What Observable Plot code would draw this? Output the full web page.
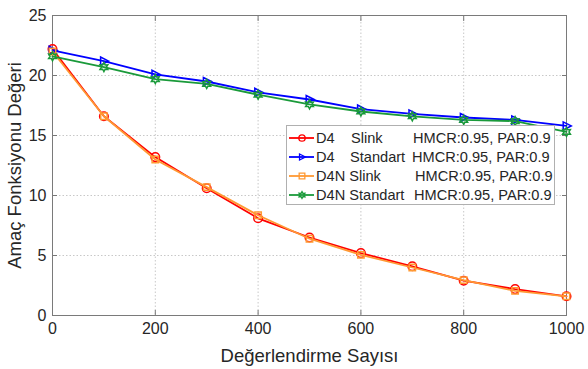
<!DOCTYPE html>
<html>
<head>
<meta charset="utf-8">
<script src="https://cdn.jsdelivr.net/npm/d3@7"></script>
<script src="https://cdn.jsdelivr.net/npm/@observablehq/plot@0.6"></script>
<style>
  body { margin: 0; background: #fff; }
  #wrap { position: relative; width: 588px; height: 369px; font-family: "Liberation Sans", Arial, sans-serif; }
  #wrap svg text { font-family: "Liberation Sans", Arial, sans-serif; }
  #legend { position: absolute; left: 286px; top: 125px; width: 269px; height: 80px; border: 1px solid #b0b0b0; background: #fff; box-sizing: border-box; }
  #legend .row { position: absolute; left: 0; height: 19px; width: 100%; font-size: 14.6px; color: #262626; }
  #legend .row span { position: absolute; top: 0; line-height: 19px; white-space: pre; }
  #legend svg { position: absolute; left: 0; top: 0; }
</style>
</head>
<body>
<div id="wrap"></div>
<script>
const evals = [0, 100, 200, 300, 400, 500, 600, 700, 800, 900, 1000];
const d4Slink     = [22.2, 16.6, 13.2, 10.6, 8.1, 6.5, 5.2, 4.1, 2.9, 2.2, 1.6];
const d4Standart  = [22.1, 21.2, 20.1, 19.5, 18.6, 18.0, 17.2, 16.8, 16.5, 16.3, 15.8];
const d4nSlink    = [22.0, 16.6, 13.0, 10.7, 8.35, 6.4, 5.05, 4.0, 2.95, 2.05, 1.6];
const d4nStandart = [21.6, 20.7, 19.7, 19.3, 18.4, 17.6, 17.0, 16.6, 16.3, 16.2, 15.3];
const seriesNames = ["D4 Slink", "D4 Standart", "D4N Slink", "D4N Standart"];
const seriesColors = ["#ff0000", "#0000ff", "#ff9933", "#1a9a3a"];
const xTicks = [0, 200, 400, 600, 800, 1000];
const yTicks = [0, 5, 10, 15, 20, 25];
const xLabel = "Değerlendirme Sayısı";
const yLabel = "Amaç Fonksiyonu Değeri";
const legendParam = "HMCR:0.95, PAR:0.9";

const triangleRight = {
  draw(ctx, size) {
    const r = Math.sqrt(size) * 0.62;
    ctx.moveTo(r, 0);
    ctx.lineTo(-r * 0.7, -r * 0.85);
    ctx.lineTo(-r * 0.7, r * 0.85);
    ctx.closePath();
  }
};
const hexagram = {
  draw(ctx, size) {
    const R = Math.sqrt(size) * 0.6, r = R * 0.55;
    for (let i = 0; i < 12; i++) {
      const a = -Math.PI / 2 + i * Math.PI / 6;
      const rr = i % 2 === 0 ? R : r;
      const x = rr * Math.cos(a), y = rr * Math.sin(a);
      if (i === 0) ctx.moveTo(x, y); else ctx.lineTo(x, y);
    }
    ctx.closePath();
  }
};
const symbols = ["circle", triangleRight, "square", hexagram];
const radii = [4.3, 4.3, 3.6, 4.2];

const allSeries = [d4Slink, d4Standart, d4nSlink, d4nStandart];
const data = [];
allSeries.forEach((vals, si) => vals.forEach((v, i) => data.push({x: evals[i], y: v, s: si})));

const marks = [
  Plot.gridX(xTicks, {stroke: "#c8c8c8", strokeOpacity: 1, strokeDasharray: "1.5,2"}),
  Plot.gridY(yTicks, {stroke: "#c8c8c8", strokeOpacity: 1, strokeDasharray: "1.5,2"}),
  Plot.axisX(xTicks, {anchor: "bottom", tickSize: -5, tickPadding: 12, tickFormat: d => String(d), color: "#262626", stroke: "#777", label: xLabel, labelAnchor: "center", labelArrow: "none", labelOffset: 46}),
  Plot.axisX(xTicks, {anchor: "top", tickSize: -5, tickFormat: () => "", stroke: "#777", label: null}),
  Plot.axisY(yTicks, {anchor: "left", tickSize: -5, tickPadding: 11, tickFormat: d => String(d), color: "#262626", stroke: "#777", label: yLabel, labelAnchor: "center", labelArrow: "none", labelOffset: 45}),
  Plot.axisY(yTicks, {anchor: "right", tickSize: -5, tickFormat: () => "", stroke: "#777", label: null}),
  Plot.frame({stroke: "#7a7a7a"})
];
allSeries.forEach((vals, si) => {
  const sd = data.filter(d => d.s === si);
  marks.push(Plot.line(sd, {x: "x", y: "y", stroke: seriesColors[si], strokeWidth: 1.8}));
  marks.push(Plot.dot(sd, {x: "x", y: "y", stroke: seriesColors[si], fill: "none", strokeWidth: 1.5, symbol: () => symbols[si], r: radii[si]}));
});

const chart = Plot.plot({
  width: 588, height: 369,
  marginLeft: 52, marginRight: 22, marginTop: 15, marginBottom: 54,
  x: {domain: [0, 1000]},
  y: {domain: [0, 25]},
  marks
});
chart.setAttribute("font-family", "Liberation Sans, Arial, sans-serif");
chart.style.overflow = "visible";
chart.querySelectorAll("text").forEach(t => {
  t.style.fontFamily = "'Liberation Sans', Arial, sans-serif";
  t.style.fontSize = "16px";
  t.style.fill = "#262626";
  if (t.textContent.includes(xLabel) || t.textContent.includes(yLabel)) {
    t.style.fontSize = "18.5px";
  }
});
const wrap = document.getElementById("wrap");
wrap.appendChild(chart);

// legend
const legend = document.createElement("div");
legend.id = "legend";
const cols = [
  [["D4", 29], ["Slink", 64], [legendParam, 126]],
  [["D4", 29], ["Standart", 63], [legendParam, 125]],
  [["D4N Slink", 29], [legendParam, 128]],
  [["D4N Standart", 29], [legendParam, 127]]
];
const lsvg = d3.create("svg").attr("width", 269).attr("height", 80);
seriesNames.forEach((name, i) => {
  const cy = 12 + i * 19;
  lsvg.append("line").attr("x1", 2).attr("x2", 27).attr("y1", cy).attr("y2", cy).attr("stroke", seriesColors[i]).attr("stroke-width", 1.8);
  const sym = typeof symbols[i] === "string" ? (symbols[i] === "circle" ? d3.symbolCircle : d3.symbolSquare) : symbols[i];
  lsvg.append("path").attr("d", d3.symbol(sym, Math.PI * 3.2 * 3.2)()).attr("transform", `translate(15,${cy})`).attr("fill", "none").attr("stroke", seriesColors[i]).attr("stroke-width", 1.3);
});
legend.appendChild(lsvg.node());
cols.forEach((row, i) => {
  const r = document.createElement("div");
  r.className = "row";
  r.style.top = (3 + i * 19) + "px";
  r.setAttribute("aria-label", seriesNames[i]);
  row.forEach(([txt, x]) => {
    const s = document.createElement("span");
    s.textContent = txt;
    s.style.left = x + "px";
    r.appendChild(s);
  });
  legend.appendChild(r);
});
wrap.appendChild(legend);
</script>
</body>
</html>
